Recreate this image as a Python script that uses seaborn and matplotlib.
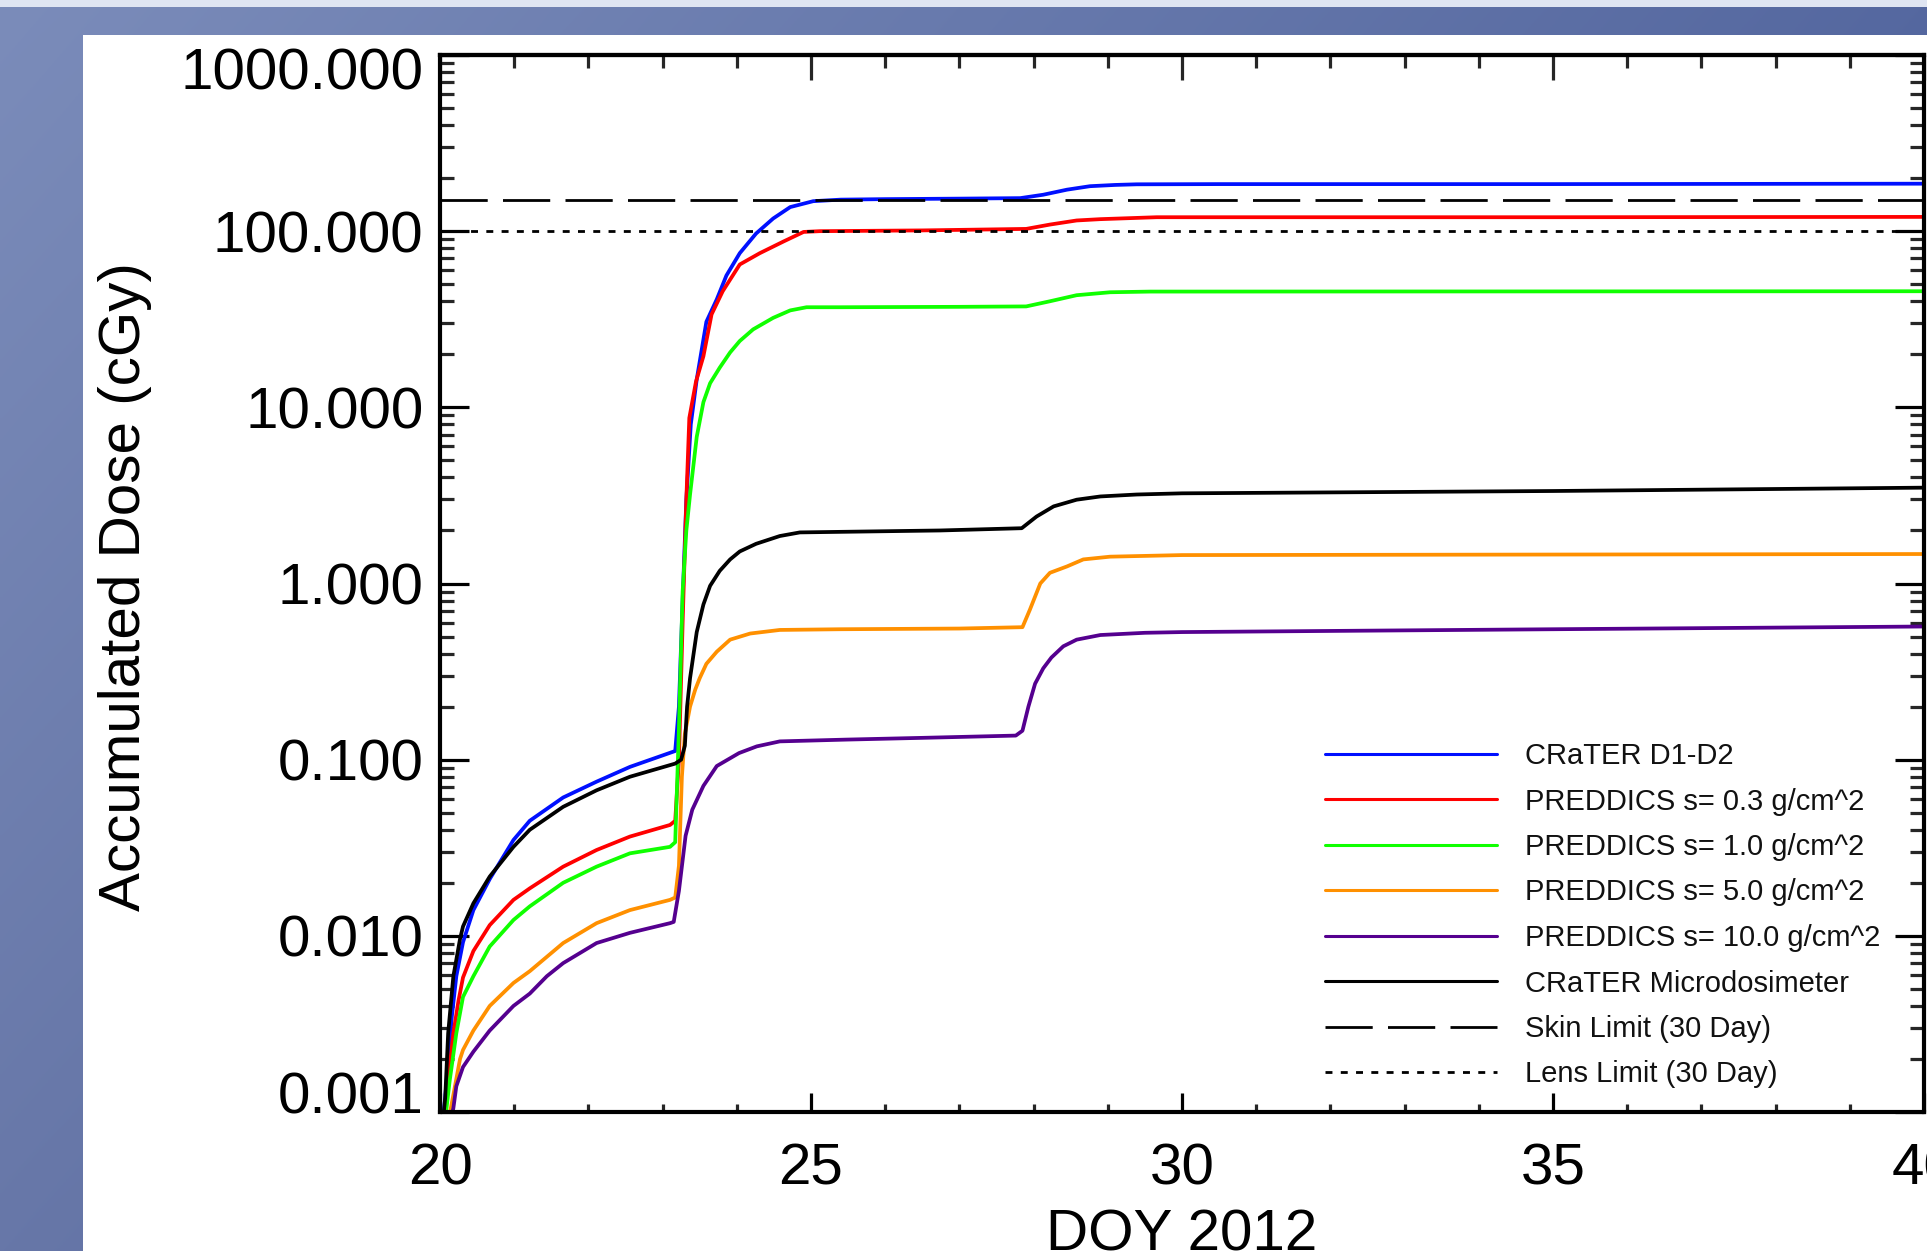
import numpy as np
import pandas as pd
import matplotlib
matplotlib.use("Agg")
import matplotlib.pyplot as plt
import seaborn as sns
from matplotlib.patches import Rectangle
from matplotlib.lines import Line2D
from matplotlib.transforms import ScaledTranslation
from matplotlib.ticker import (MultipleLocator, LogLocator, FixedLocator,
                               FuncFormatter, NullFormatter)

# ---------------- data ----------------
labels = ["CRaTER D1-D2",
          "PREDDICS s= 0.3 g/cm^2",
          "PREDDICS s= 1.0 g/cm^2",
          "PREDDICS s= 5.0 g/cm^2",
          "PREDDICS s= 10.0 g/cm^2",
          "CRaTER Microdosimeter"]
colors = ["#0010ff", "#ff0000", "#10ff00", "#ff9000", "#55008f", "#000000"]

blue_x = [20.0, 20.09, 20.16, 20.22, 20.31, 20.45, 20.67, 20.99, 21.21, 21.66, 22.11, 22.56,
          23.17, 23.22, 23.27, 23.32, 23.38, 23.46, 23.59, 23.73, 23.86, 24.04, 24.26, 24.49,
          24.72, 25.03, 25.4, 26.0, 27.0, 27.82, 28.13, 28.45, 28.76, 29.1, 29.39, 30.5, 35.0, 40.0]
blue_y = [0.0006, 0.0015, 0.0035, 0.0059, 0.0092, 0.0140, 0.021, 0.035, 0.045, 0.061, 0.075, 0.091,
          0.112, 0.2, 0.8, 3.0, 8.0, 14.4, 30.6, 41.0, 56.0, 75.0, 97.0, 118.0,
          137.0, 148.0, 151.0, 152.0, 153.0, 154.0, 161.0, 172.0, 180.0, 183.0, 184.5, 185.0, 185.0, 186.0]

red_x = [20.0, 20.11, 20.18, 20.25, 20.31, 20.45, 20.67, 20.99, 21.21, 21.66, 22.11, 22.56,
         23.10, 23.17, 23.22, 23.27, 23.32, 23.36, 23.45, 23.55, 23.66, 23.81, 24.04, 24.31,
         24.63, 24.9, 25.12, 26.5, 27.9, 28.22, 28.58, 28.9, 29.66, 35.0, 40.0]
red_y = [0.0006, 0.0015, 0.0028, 0.0043, 0.0058, 0.0082, 0.0115, 0.016, 0.0186, 0.0247, 0.0307, 0.0366,
         0.0426, 0.045, 0.1, 0.6, 3.0, 8.7, 14.0, 19.5, 33.7, 45.6, 64.7, 75.0,
         87.4, 99.0, 100.0, 101.0, 103.0, 109.0, 115.0, 117.0, 120.0, 120.0, 120.5]

green_x = [20.0, 20.13, 20.22, 20.31, 20.45, 20.67, 20.99, 21.21, 21.66, 22.11, 22.56, 23.10,
           23.17, 23.22, 23.27, 23.32, 23.37, 23.46, 23.55, 23.64, 23.77, 23.91, 24.04, 24.22,
           24.49, 24.72, 24.94, 25.39, 27.0, 27.9, 28.22, 28.58, 29.03, 29.57, 35.0, 40.0]
green_y = [0.0005, 0.0015, 0.0028, 0.0045, 0.0059, 0.0087, 0.0123, 0.0147, 0.020, 0.0247, 0.0294, 0.032,
           0.034, 0.15, 0.9, 2.0, 3.2, 6.8, 10.7, 13.7, 16.8, 20.5, 23.8, 27.7,
           32.2, 35.5, 37.0, 37.0, 37.2, 37.4, 40.0, 43.3, 45.0, 45.4, 45.5, 45.6]

orange_x = [20.0, 20.18, 20.27, 20.31, 20.45, 20.67, 20.99, 21.21, 21.66, 22.11, 22.56, 23.10,
            23.17, 23.22, 23.26, 23.30, 23.37, 23.44, 23.50, 23.59, 23.73, 23.91, 24.18, 24.58,
            25.39, 27.0, 27.85, 27.95, 28.09, 28.22, 28.45, 28.67, 29.03, 30.0, 35.0, 40.0]
orange_y = [0.0005, 0.00125, 0.0020, 0.00225, 0.0029, 0.0040, 0.0054, 0.0063, 0.0091, 0.0118, 0.0140, 0.0160,
            0.0165, 0.025, 0.08, 0.14, 0.20, 0.25, 0.29, 0.35, 0.41, 0.48, 0.52, 0.545,
            0.55, 0.555, 0.565, 0.71, 1.0, 1.15, 1.25, 1.37, 1.42, 1.45, 1.46, 1.47]

purple_x = [20.0, 20.18, 20.22, 20.31, 20.45, 20.67, 20.99, 21.21, 21.44, 21.66, 22.11, 22.56,
            23.10, 23.15, 23.22, 23.31, 23.40, 23.55, 23.73, 24.03, 24.27, 24.58, 25.48, 26.5,
            27.76, 27.85, 27.93, 28.02, 28.13, 28.24, 28.40, 28.58, 28.90, 29.5, 30.0, 35.0, 40.0]
purple_y = [0.0005, 0.00105, 0.0014, 0.0018, 0.0022, 0.0029, 0.0040, 0.0047, 0.0059, 0.0070, 0.0091, 0.0104,
            0.0118, 0.0120, 0.018, 0.037, 0.052, 0.071, 0.092, 0.109, 0.119, 0.127, 0.130, 0.133,
            0.137, 0.146, 0.20, 0.27, 0.33, 0.38, 0.44, 0.48, 0.51, 0.525, 0.53, 0.55, 0.57]

black_x = [20.0, 20.07, 20.11, 20.18, 20.27, 20.31, 20.45, 20.67, 20.99, 21.21, 21.66, 22.11,
           22.56, 23.17, 23.25, 23.30, 23.33, 23.37, 23.46, 23.55, 23.64, 23.77, 23.91, 24.04,
           24.26, 24.58, 24.85, 26.74, 27.84, 28.04, 28.27, 28.58, 28.90, 29.39, 30.0, 35.0, 40.0]
black_y = [0.0006, 0.0012, 0.0028, 0.0059, 0.0096, 0.0113, 0.0153, 0.0217, 0.032, 0.040, 0.054, 0.067,
           0.080, 0.095, 0.100, 0.12, 0.20, 0.29, 0.53, 0.76, 0.97, 1.18, 1.37, 1.52,
           1.68, 1.86, 1.95, 2.0, 2.06, 2.4, 2.74, 2.99, 3.12, 3.2, 3.25, 3.35, 3.5]

skin_limit = 150.0
lens_limit = 100.0
limit_labels = ["Skin Limit (30 Day)", "Lens Limit (30 Day)"]

y_ticks = [0.001, 0.01, 0.1, 1.0, 10.0, 100.0, 1000.0]
x_ticks = [20, 25, 30, 35, 40]

series_x = [blue_x, red_x, green_x, orange_x, purple_x, black_x]
series_y = [blue_y, red_y, green_y, orange_y, purple_y, black_y]
df = pd.concat([pd.DataFrame({"doy": xs, "dose": ys, "series": lab})
                for xs, ys, lab in zip(series_x, series_y, labels)], ignore_index=True)
palette = dict(zip(labels, colors))

# ---------------- figure ----------------
sns.set_theme(style="white")
plt.rcParams["font.family"] = ["Liberation Sans", "DejaVu Sans"]

W, H = 1927, 1251
fig = plt.figure(figsize=(W / 100, H / 100), dpi=100)

# slide background
bg = fig.add_axes([0, 0, 1, 1], zorder=-10)
yy, xx = np.mgrid[0:H:3, 0:W:3]
r = 123 - 38 * xx / W - 20 * yy / H
g = 140 - 36 * xx / W - 21 * yy / H
b = 186 - 26 * xx / W - 18 * yy / H
bg.imshow(np.dstack([r, g, b]) / 255.0, extent=[0, W, H, 0], aspect="auto")
bg.add_patch(Rectangle((0, 0), W, 7, color="#dfe5f2", lw=0))
bg.add_patch(Rectangle((83, 35), W - 83, H - 35, color="white", lw=0))
bg.set_xlim(0, W)
bg.set_ylim(H, 0)
bg.axis("off")

ax_l, ax_r, ax_t, ax_b = 440, 1924, 55, 1112
ax = fig.add_axes([ax_l / W, 1 - ax_b / H, (ax_r - ax_l) / W, (ax_b - ax_t) / H])
ax.set_facecolor("white")

sns.lineplot(data=df, x="doy", y="dose", hue="series", palette=palette,
             hue_order=labels, estimator=None, sort=False, legend=False,
             linewidth=2.7, ax=ax)

ax.axhline(skin_limit, color="black", lw=2.0, dashes=(17, 5.5))
ax.axhline(lens_limit, color="black", lw=2.0, dashes=(2.5, 3))

ax.set_yscale("log")
ax.set_ylim(1e-3, 1e3)
ax.set_xlim(20, 40)

ax.yaxis.set_major_locator(FixedLocator(y_ticks))
ax.yaxis.set_minor_locator(LogLocator(base=10, subs=np.arange(2, 10), numticks=50))
ax.yaxis.set_major_formatter(FuncFormatter(lambda v, p: f"{v:.3f}"))
ax.yaxis.set_minor_formatter(NullFormatter())
ax.xaxis.set_major_locator(FixedLocator(x_ticks))
ax.xaxis.set_minor_locator(MultipleLocator(1))
ax.xaxis.set_major_formatter(FuncFormatter(lambda v, p: f"{v:.0f}"))

for s in ax.spines.values():
    s.set_visible(True)
    s.set_color("black")
    s.set_linewidth(3)

ax.tick_params(axis="y", which="major", direction="in", length=21, width=2.3,
               left=True, right=True, labelsize=42, pad=12, colors="black")
ax.tick_params(axis="y", which="minor", direction="in", length=10, width=2.3,
               left=True, right=True)
ax.tick_params(axis="x", which="major", direction="in", length=14, width=2.3,
               bottom=True, top=False, labelsize=42, pad=22, colors="black")
ax.tick_params(axis="x", which="minor", direction="in", length=6, width=2.3,
               bottom=True, top=False)

sec = ax.secondary_xaxis("top")
sec.xaxis.set_major_locator(FixedLocator(x_ticks))
sec.xaxis.set_minor_locator(MultipleLocator(1))
sec.tick_params(axis="x", which="major", direction="in", length=18, width=2.3, labeltop=False)
sec.tick_params(axis="x", which="minor", direction="in", length=9, width=2.3)
sec.spines["top"].set_linewidth(3)

# keep the end labels inside the axis range, as in the reference
yt = ax.yaxis.get_major_ticks()
yt[0].label1.set_transform(yt[0].label1.get_transform()
                           + ScaledTranslation(0, 19 / 100, fig.dpi_scale_trans))
yt[-1].label1.set_transform(yt[-1].label1.get_transform()
                            + ScaledTranslation(0, -13 / 100, fig.dpi_scale_trans))

ax.set_ylabel("Accumulated Dose (cGy)", fontsize=42, color="black")
ax.yaxis.set_label_coords(-0.194, 0.497)
ax.set_xlabel("DOY 2012", fontsize=42, color="black")
ax.xaxis.set_label_coords(0.5, -0.091)

handles = [Line2D([], [], color=c, lw=2.2) for c in colors]
handles += [Line2D([], [], color="black", lw=2.0, dashes=(17, 5.5)),
            Line2D([], [], color="black", lw=2.0, dashes=(2.5, 3))]
leg = ax.legend(handles, labels + limit_labels, loc="upper left",
                bbox_to_anchor=(1325 / W, 1 - 742 / H), bbox_transform=fig.transFigure,
                frameon=False, fontsize=21, handlelength=5.9, handletextpad=0.95,
                labelspacing=0.6, borderpad=0, borderaxespad=0)
for t in leg.get_texts():
    t.set_color("#111111")

fig.savefig("out.png", dpi=100)
